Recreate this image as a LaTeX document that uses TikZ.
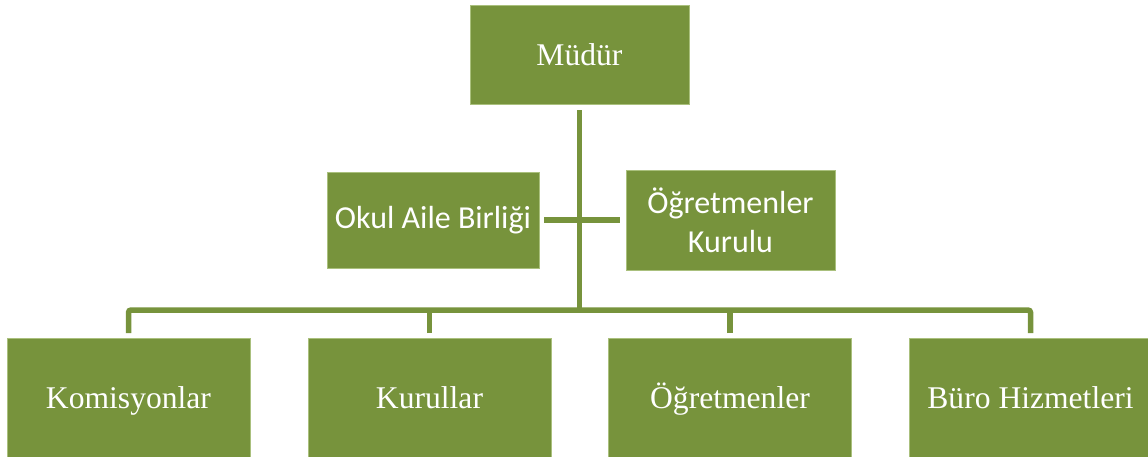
\documentclass[tikz,border=0pt]{standalone}
\usepackage{fontspec}
\setmainfont{Liberation Serif}
\newfontfamily\calfont{Carlito}
\definecolor{olive}{RGB}{119,147,60}
\definecolor{oliveedge}{RGB}{170,192,125}
\tikzset{
  box/.style={draw=oliveedge, line width=0.8pt, fill=olive, text=white, inner sep=0pt, align=center},
  serifbox/.style={box, font=\fontsize{31.6}{38}\selectfont},
  bottombox/.style={serifbox, minimum width=243pt, minimum height=119pt, anchor=north, text height=22pt, text depth=0pt},
  calbox/.style={box, font=\calfont\fontsize{32}{39}\selectfont},
  conn/.style={draw=olive, line width=5.5pt}
}
\begin{document}
\begin{tikzpicture}[x=1pt,y=-1pt]
\useasboundingbox (0,0) rectangle (1148,456);
\clip (0,0) rectangle (1148,456);
\node[serifbox, minimum width=219pt, minimum height=99pt] (mudur) at (579.5,54.5) {Müdür};
\node[calbox, minimum width=212pt, minimum height=96pt] (oab) at (433,220) {Okul Aile Birliği};
\node[calbox, minimum width=209pt, minimum height=100pt] (ok) at (730.5,220) {Öğretmenler\\Kurulu};
\node[bottombox] (kom) at (128.5,338) {Komisyonlar};
\node[bottombox] (kur) at (429.5,338) {Kurullar};
\node[bottombox] (ogr) at (730,338) {Öğretmenler};
\node[bottombox] (buro) at (1030.5,338) {Büro Hizmetleri};
\coordinate (bus) at (579.5,310);
\draw[conn] ([yshift=-6pt]mudur.south) -- ([yshift=-2.75pt]bus);
\draw[conn] ([xshift=5pt]oab.east) -- ([xshift=-6pt]ok.west);
\draw[conn, rounded corners=2.5pt] ([yshift=5pt]kom.north) -- (kom.north |- bus) -- (buro.north |- bus) -- ([yshift=5pt]buro.north);
\draw[conn] ([yshift=5pt]kur.north) -- (kur.north |- bus);
\draw[conn] ([yshift=5pt]ogr.north) -- (ogr.north |- bus);
\end{tikzpicture}
\end{document}
